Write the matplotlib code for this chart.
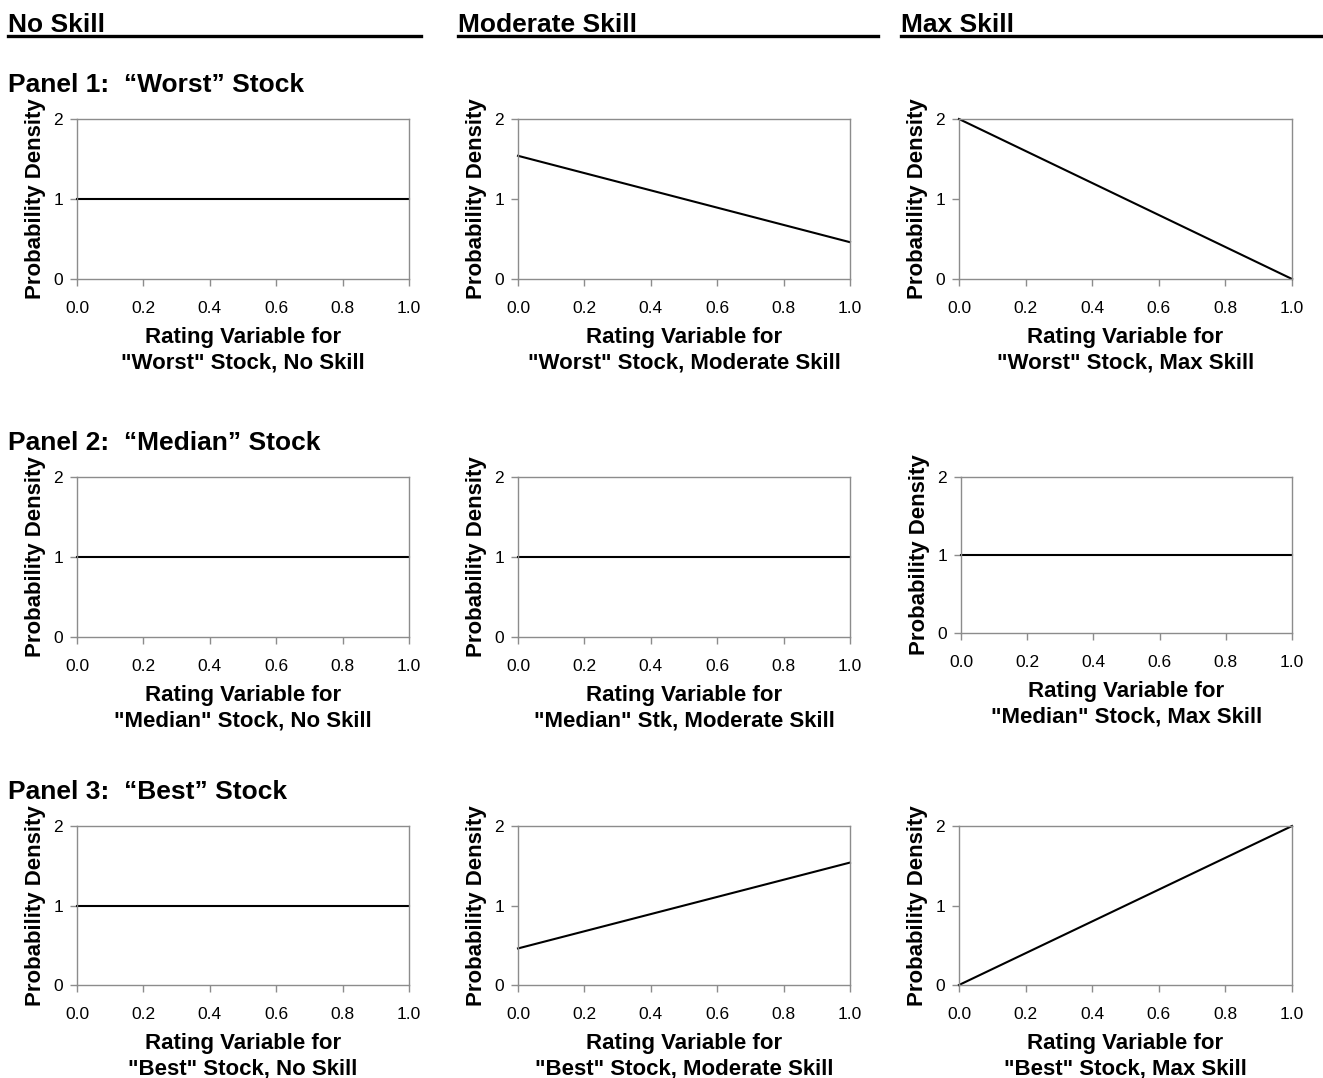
import numpy as np
import matplotlib
matplotlib.use("Agg")
import matplotlib.pyplot as plt

plt.rcParams['font.family'] = ['Liberation Sans', 'DejaVu Sans']

# rating variable (x) endpoints and densities for each panel
rating = [0.0, 1.0]

skills = ["No Skill", "Moderate Skill", "Max Skill"]
panels = ["Panel 1:  \u201cWorst\u201d Stock",
          "Panel 2:  \u201cMedian\u201d Stock",
          "Panel 3:  \u201cBest\u201d Stock"]

worst_density = [[1.0, 1.0], [1.54, 0.46], [2.0, 0.0]]
median_density = [[1.0, 1.0], [1.0, 1.0], [1.0, 1.0]]
best_density = [[1.0, 1.0], [0.46, 1.54], [0.0, 2.0]]
densities = [worst_density, median_density, best_density]

xlabels = [
    ['Rating Variable for\n"Worst" Stock, No Skill',
     'Rating Variable for\n"Worst" Stock, Moderate Skill',
     'Rating Variable for\n"Worst" Stock, Max Skill'],
    ['Rating Variable for\n"Median" Stock, No Skill',
     'Rating Variable for\n"Median" Stk, Moderate Skill',
     'Rating Variable for\n"Median" Stock, Max Skill'],
    ['Rating Variable for\n"Best" Stock, No Skill',
     'Rating Variable for\n"Best" Stock, Moderate Skill',
     'Rating Variable for\n"Best" Stock, Max Skill'],
]

x_ticks = [0.0, 0.2, 0.4, 0.6, 0.8, 1.0]
y_ticks = [0, 1, 2]

W, H = 1323, 1078
fig = plt.figure(figsize=(W / 100, H / 100), dpi=100)

# axes boxes in pixels (left, top, right, bottom)
col_lr = [(77, 409), (518, 850), (959, 1292)]
row_tb = [(119, 279), (477, 637), (826, 985)]
head_x = [(8, 421), (458, 878), (901, 1323)]
panel_base = [92, 450, 799]

gray = "#8c8c8c"

def px_box(l, t, r, b):
    return [l / W, 1 - b / H, (r - l) / W, (b - t) / H]

# column headers with underline
for j, name in enumerate(skills):
    x0, x1 = head_x[j]
    fig.text(x0 / W, 1 - 32 / H, name, fontsize=19, fontweight="bold",
             ha="left", va="baseline")
    fig.add_artist(plt.Line2D([x0 / W, x1 / W], [1 - 35.5 / H, 1 - 35.5 / H],
                              color="black", lw=2.4))

for i in range(3):
    fig.text(8 / W, 1 - panel_base[i] / H, panels[i], fontsize=19,
             fontweight="bold", ha="left", va="baseline")
    for j in range(3):
        l, r = col_lr[j]
        t, b = row_tb[i]
        if i == 1 and j == 2:
            l, b = 961, 633
        ax = fig.add_axes(px_box(l, t, r, b))
        ax.plot(rating, densities[i][j], color="black", lw=1.5, clip_on=False)
        ax.set_xlim(0, 1)
        ax.set_ylim(0, 2)
        ax.set_xticks(x_ticks)
        ax.set_xticklabels([f"{v:.1f}" for v in x_ticks])
        ax.set_yticks(y_ticks)
        for s in ax.spines.values():
            s.set_color(gray)
            s.set_linewidth(1.0)
        ax.tick_params(axis="both", colors=gray, length=5, width=1.0,
                       labelsize=12.5, labelcolor="black")
        ax.tick_params(axis="x", pad=10.5)
        ax.tick_params(axis="y", pad=5)
        ax.set_xlabel(xlabels[i][j], fontsize=16, fontweight="bold",
                      linespacing=1.25, labelpad=8.5)
        ax.set_ylabel("Probability Density", fontsize=16, fontweight="bold",
                      labelpad=5.5)

fig.savefig("out.png", dpi=100)
